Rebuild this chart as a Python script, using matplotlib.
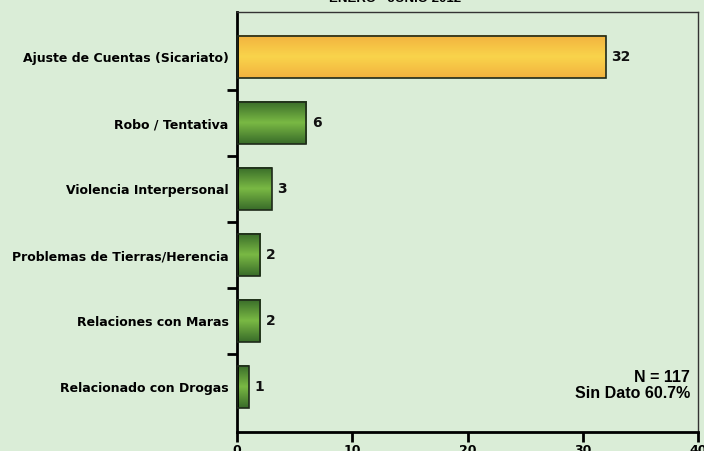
import numpy as np
import matplotlib
matplotlib.use("Agg")
import matplotlib.pyplot as plt
from matplotlib.colors import LinearSegmentedColormap

categories = ["Ajuste de Cuentas (Sicariato)", "Robo / Tentativa", "Violencia Interpersonal",
              "Problemas de Tierras/Herencia", "Relaciones con Maras", "Relacionado con Drogas"]
values = [32, 6, 3, 2, 2, 1]
xticks = [0, 10, 20, 30, 40]
title = "ENERO - JUNIO 2012"
note = "N = 117\nSin Dato 60.7%"

bg = "#DAEDD7"
fig = plt.figure(figsize=(7.04, 4.51), dpi=100, facecolor=bg)
ax = fig.add_axes([237/704, 1-432/451, (698-237)/704, (432-12)/451])
ax.set_facecolor(bg)

ypos = np.arange(len(categories))
h = 0.65
bars = ax.barh(ypos, values, height=h, facecolor="none", edgecolor="#1E2A1A", linewidth=1.2, zorder=3)

green = LinearSegmentedColormap.from_list("g", ["#386B29", "#7AB944", "#386B29"])
orange = LinearSegmentedColormap.from_list("o", ["#F2B23F", "#F9D44B", "#F2B23F"])
grad = np.linspace(0, 1, 256).reshape(-1, 1)
for i, b in enumerate(bars):
    cmap = orange if i == 0 else green
    x0, y0 = b.get_x(), b.get_y()
    w, hh = b.get_width(), b.get_height()
    ax.imshow(grad, cmap=cmap, aspect="auto", extent=[x0, x0 + w, y0 + hh, y0],
              zorder=2, interpolation="bilinear")
    ax.text(x0 + w + 0.5, y0 + hh/2, str(values[i]), va="center", ha="left",
            fontsize=10, fontweight="bold", color="#111111", zorder=4)

ax.set_xlim(0, 40)
ax.set_ylim(5 + 45/66, -45/66)
ax.set_xticks(xticks)
ax.set_xticklabels([str(t) for t in xticks], fontsize=9, fontweight="bold")
ax.set_yticks(ypos)
ax.set_yticklabels(categories, fontsize=9, fontweight="bold")
ax.tick_params(axis="y", which="major", length=0, pad=6)
ax.set_yticks(ypos[:-1] + 0.5, minor=True)
ax.tick_params(axis="y", which="minor", length=7, width=2, direction="out", color="black")
ax.tick_params(axis="x", length=7, width=2, direction="out", pad=2)

for s in ["left", "bottom"]:
    ax.spines[s].set_linewidth(2)
    ax.spines[s].set_color("black")
for s in ["top", "right"]:
    ax.spines[s].set_linewidth(1)
    ax.spines[s].set_color("#333333")

fig.text(395/704, 1 - 2.5/451, title, ha="center", va="baseline", fontsize=9.5,
         fontweight="bold", family="Liberation Sans")
ax.text(690/704, 1 - 401/451, note, transform=fig.transFigure, ha="right", va="bottom",
        fontsize=11.5, fontweight="bold", family="Liberation Sans", linespacing=1.1)

fig.savefig("out.png", dpi=100, facecolor=bg)
